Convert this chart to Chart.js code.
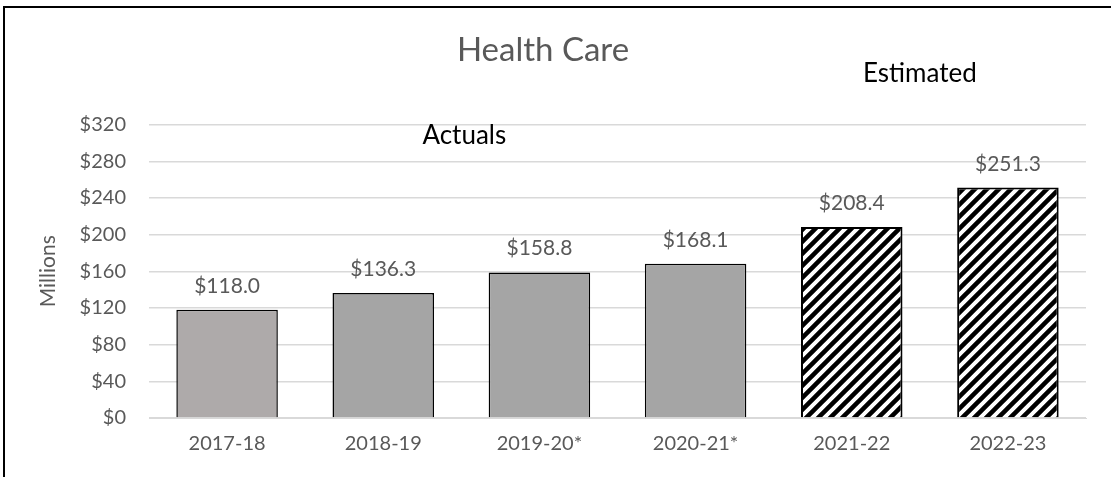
<!DOCTYPE html>
<html>
<head>
<meta charset="utf-8">
<script src="https://cdn.jsdelivr.net/npm/chart.js@4"></script>
<style>
  html, body { margin: 0; padding: 0; background: #fff; }
  #wrap { position: relative; width: 1111px; height: 477px; }
  #frame { position: absolute; left: 3px; top: 6px; width: 1120px; height: 480px; border: 2px solid #000; box-sizing: border-box; }
  canvas { position: absolute; left: 0; top: 0; }
</style>
</head>
<body>
<div id="wrap">
  <div id="frame"></div>
  <canvas id="grafico" width="1111" height="477"></canvas>
</div>
<script>
// dados
const anos = ['2017-18', '2018-19', '2019-20*', '2020-21*', '2021-22', '2022-23'];
const valores = [118.0, 136.3, 158.8, 168.1, 208.4, 251.3];
const estimado = [false, false, false, false, true, true];
const coresBarra = ['#AEAAAA', '#A5A5A5', '#A5A5A5', '#A5A5A5', null, null];
const ticksY = [0, 40, 80, 120, 160, 200, 240, 280, 320];

const fonte = "Lato, 'Open Sans', sans-serif";
const cinza = '#595959';

function criarTracejado() {
    const c = document.createElement('canvas');
    c.width = 12; c.height = 12;
    const g = c.getContext('2d');
    g.fillStyle = '#fff';
    g.fillRect(0, 0, 12, 12);
    g.strokeStyle = '#000';
    g.lineWidth = 4.5;
    g.beginPath();
    g.moveTo(-3, 15); g.lineTo(15, -3);
    g.moveTo(-9, 9); g.lineTo(9, -9);
    g.moveTo(3, 21); g.lineTo(21, 3);
    g.stroke();
    return g.createPattern(c, 'repeat');
}

const ctx = document.getElementById('grafico').getContext('2d');
const tracejado = criarTracejado();

// rótulos de valor e textos "Actuals" / "Estimated"
const rotulos = {
    id: 'rotulos',
    afterDatasetsDraw(chart) {
        const c = chart.ctx;
        const meta = chart.getDatasetMeta(0);
        c.save();
        c.font = '21px ' + fonte;
        c.fillStyle = cinza;
        c.textAlign = 'center';
        c.textBaseline = 'alphabetic';
        meta.data.forEach((bar, i) => {
            c.fillText('$' + valores[i].toFixed(1), bar.x, bar.y - 17);
        });
        const x = chart.scales.x;
        c.font = '26px ' + fonte;
        c.fillStyle = '#000';
        c.fillText('Actuals', (x.getPixelForValue(1) + x.getPixelForValue(2)) / 2 + 3, chart.chartArea.top + 19);
        c.fillText('Estimated', (x.getPixelForValue(4) + x.getPixelForValue(5)) / 2 - 10, chart.chartArea.top - 43);
        c.restore();
    }
};

new Chart(ctx, {
    type: 'bar',
    data: {
        labels: anos,
        datasets: [{
            label: 'Health Care',
            data: valores,
            backgroundColor: valores.map((v, i) => estimado[i] ? tracejado : coresBarra[i]),
            borderColor: '#000',
            borderWidth: valores.map((v, i) => estimado[i] ? 2 : 1.5),
            borderSkipped: 'bottom',
            barPercentage: 0.65,
            categoryPercentage: 1.0
        }]
    },
    options: {
        responsive: false,
        animation: false,
        layout: { padding: { left: 0, right: 25, top: 0, bottom: 19 } },
        plugins: {
            legend: { display: false },
            tooltip: { enabled: false },
            title: {
                display: true,
                text: 'Health Care',
                color: cinza,
                font: { family: fonte, size: 33, weight: 'normal', lineHeight: 1.2 },
                padding: { top: 31, bottom: 54 }
            }
        },
        scales: {
            x: {
                afterFit: s => { s.height = 40; },
                grid: { display: false, drawTicks: false },
                border: { display: true, color: '#D9D9D9', width: 1 },
                ticks: { color: cinza, font: { family: fonte, size: 20 }, padding: 14 }
            },
            y: {
                min: 0,
                max: 320,
                afterFit: s => { s.width = 149; },
                afterBuildTicks: s => { s.ticks = ticksY.map(v => ({ value: v })); },
                grid: { color: '#D9D9D9', lineWidth: 1.5, drawTicks: false },
                border: { display: false },
                ticks: {
                    color: cinza,
                    font: { family: fonte, size: 20 },
                    padding: 23,
                    callback: v => '$' + v
                },
                title: {
                    display: true,
                    text: 'Millions',
                    color: cinza,
                    font: { family: fonte, size: 21 },
                    padding: { top: 36, bottom: 0 }
                }
            }
        }
    },
    plugins: [rotulos]
});
</script>
</body>
</html>
